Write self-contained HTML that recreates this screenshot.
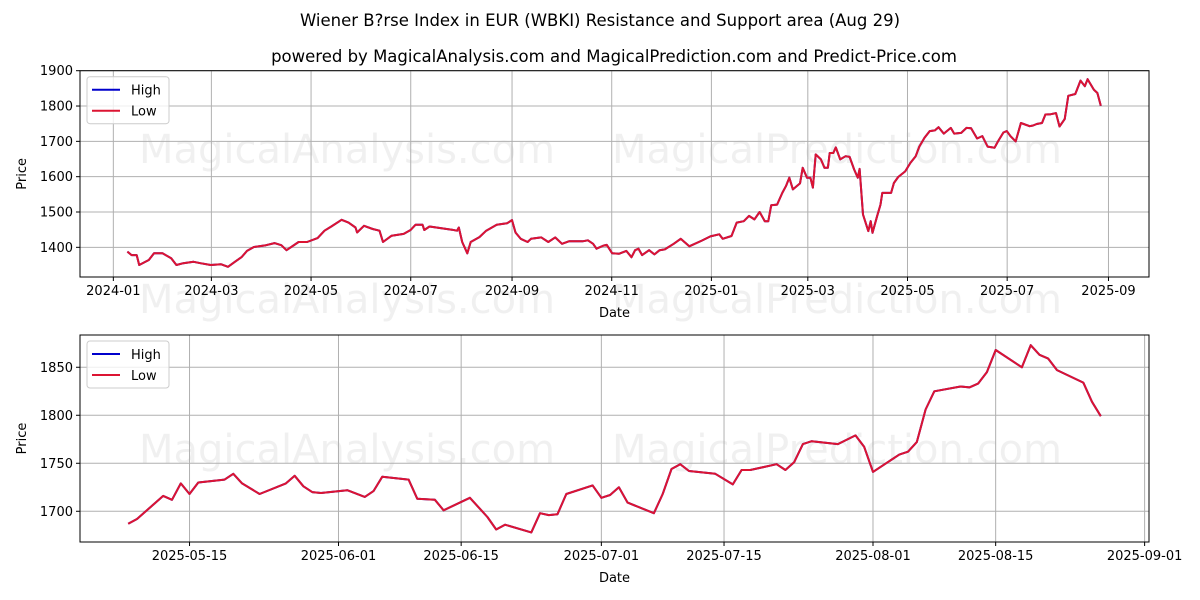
<!DOCTYPE html>
<html><head><meta charset="utf-8"><style>
html,body{margin:0;padding:0;background:#fff;}
svg{display:block;font-family:"DejaVu Sans","Liberation Sans",sans-serif;}
</style></head><body>
<svg id="c" width="1200" height="600" viewBox="0 0 1200 600">
<text x="600" y="26" text-anchor="middle" font-size="16.5">Wiener B?rse Index in EUR (WBKI) Resistance and Support area (Aug 29)</text>
<text x="614" y="62" text-anchor="middle" font-size="16.5">powered by MagicalAnalysis.com and MagicalPrediction.com and Predict-Price.com</text>
</svg>
<script>
// Top chart: day offsets from 2024-01-01 and Low values
const topDays=[8.6,11.2,14.3,15.8,21.7,24.9,30.1,35.4,38.6,42.8,49.1,53.3,59.6,66,70.2,74.4,78.6,81.8,86,93.4,98.6,102.8,106,113.4,118.6,125,129.2,133.4,139.7,143.9,148.2,149.2,153.4,158.7,162.9,165,170.3,177.7,181.9,185,189.2,190.3,193.5,200.8,207.2,210.3,211.4,213.5,216.6,218.7,224,228.2,234.6,240.9,244,246.1,249.3,253.5,255.6,261.9,266.2,270.4,274.6,278.8,287.2,290.4,293.6,295.7,299.9,302,305.3,309.6,313.9,317.1,319.3,321.4,323.6,327.9,331.1,334.3,337.5,342.9,347.2,352.5,360.1,365.4,370.8,372.9,378.3,381.5,385.8,389,392.3,395.5,398.7,400.8,402.6,406.2,409.4,411.6,413.7,415.9,420.2,421.9,424.5,426.6,428.1,429.8,433,435.2,437.3,438.4,440.6,442.1,444.8,448.1,450.6,453.4,455.6,456.7,458.8,462,463.5,464.6,467.4,469.5,470.6,476,477.7,480.3,484.6,487.8,491,493.2,496.4,499.6,502.8,505,508.2,512.5,514.6,518.9,522.1,524.9,528.6,531.8,535,539.3,541.4,544.7,546.8,549,552.2,555.4,560.8,562.9,565.1,568.3,570.4,573.7,576.9,579,582.2,584.4,588.7,591.9,594.5,596.2,600.1,602.2,604.3];
const topLow=[1388,1378,1378,1350,1364,1383,1383,1369,1350,1355,1359,1355,1350,1352,1345,1359,1373,1390,1401,1406,1412,1406,1392,1415,1415,1426,1447,1459,1478,1470,1456,1442,1461,1452,1447,1415,1433,1438,1449,1464,1464,1449,1459,1454,1450,1447,1456,1415,1383,1415,1429,1447,1464,1468,1477,1442,1424,1415,1424,1428,1415,1428,1410,1417,1417,1420,1410,1396,1405,1407,1383,1382,1390,1372,1392,1396,1378,1392,1380,1392,1394,1410,1424,1403,1419,1431,1437,1424,1432,1470,1474,1489,1479,1500,1474,1474,1519,1521,1554,1573,1597,1564,1581,1625,1597,1597,1569,1663,1649,1625,1625,1667,1667,1683,1649,1658,1656,1620,1597,1622,1493,1446,1474,1441,1488,1521,1554,1554,1582,1599,1615,1639,1658,1685,1710,1729,1731,1740,1722,1738,1722,1724,1738,1737,1708,1715,1685,1682,1700,1725,1729,1715,1700,1752,1743,1745,1749,1752,1776,1777,1780,1742,1763,1829,1834,1872,1856,1876,1846,1837,1801];
const topHigh=topLow.slice();
const topYTicks=[1400,1500,1600,1700,1800,1900];
const topXTickLabels=["2024-01","2024-03","2024-05","2024-07","2024-09","2024-11","2025-01","2025-03","2025-05","2025-07","2025-09"];
// Bottom chart
const botDates=["2025-05-08","2025-05-09","2025-05-12","2025-05-13","2025-05-14","2025-05-15","2025-05-16","2025-05-19","2025-05-20","2025-05-21","2025-05-23","2025-05-26","2025-05-27","2025-05-28","2025-05-29","2025-05-30","2025-06-02","2025-06-04","2025-06-05","2025-06-06","2025-06-09","2025-06-10","2025-06-12","2025-06-13","2025-06-16","2025-06-18","2025-06-19","2025-06-20","2025-06-23","2025-06-24","2025-06-25","2025-06-26","2025-06-27","2025-06-30","2025-07-01","2025-07-02","2025-07-03","2025-07-04","2025-07-07","2025-07-08","2025-07-09","2025-07-10","2025-07-11","2025-07-14","2025-07-16","2025-07-17","2025-07-18","2025-07-21","2025-07-22","2025-07-23","2025-07-24","2025-07-25","2025-07-28","2025-07-30","2025-07-31","2025-08-01","2025-08-04","2025-08-05","2025-08-06","2025-08-07","2025-08-08","2025-08-11","2025-08-12","2025-08-13","2025-08-14","2025-08-15","2025-08-18","2025-08-19","2025-08-20","2025-08-21","2025-08-22","2025-08-25","2025-08-26","2025-08-27"];
const botLow=[1687,1692,1716,1712,1729,1718,1730,1733,1739,1729,1718,1729,1737,1726,1720,1719,1722,1715,1721,1736,1733,1713,1712,1701,1714,1694,1681,1686,1678,1698,1696,1697,1718,1727,1714,1717,1725,1709,1698,1718,1744,1749,1742,1739,1728,1743,1743,1749,1743,1751,1770,1773,1770,1779,1767,1741,1759,1762,1772,1806,1825,1830,1829,1833,1845,1868,1850,1873,1863,1859,1847,1834,1814,1799];
const botHigh=botLow.slice();
const botYTicks=[1700,1750,1800,1850];
const botXTickLabels=["2025-05-15","2025-06-01","2025-06-15","2025-07-01","2025-07-15","2025-08-01","2025-08-15","2025-09-01"];

const NS="http://www.w3.org/2000/svg";
const svg=document.getElementById('c');
function mk(t,a,p){const e=document.createElementNS(NS,t);for(const k in a)e.setAttribute(k,a[k]);(p||svg).appendChild(e);return e;}
const DAY=86400000;
const base24=Date.UTC(2024,0,1), base25=Date.UTC(2025,4,15);
function dOff(s,b){const p=s.split('-');return (Date.UTC(+p[0],+p[1]-1,+p[2])-b)/DAY;}
function monthOff(s){return dOff(s+"-01",base24);}

function panel(o){
  const g=mk('g',{});
  
  
  const X=v=>o.L+(v-o.x0)/(o.x1-o.x0)*(o.R-o.L);
  const Y=v=>o.B-(v-o.y0)/(o.y1-o.y0)*(o.B-o.T);
  o.wm.forEach(w=>{const t=mk('text',{x:w[0],y:w[1],'text-anchor':'middle','font-size':40,fill:'#000','fill-opacity':0.06},g);t.textContent=w[2];
    });
  o.yt.forEach(v=>{const y=Y(v);
    const l=mk('line',{x1:o.L,x2:o.R,y1:y,y2:y,stroke:'#b0b0b0','stroke-width':1},g);
    
    mk('line',{x1:o.L-4,x2:o.L,y1:y,y2:y,stroke:'#000'},g);
    const t=mk('text',{x:o.L-7,y:y+4.5,'text-anchor':'end','font-size':13},g);t.textContent=v;
    });
  o.xt.forEach((lab,i)=>{const x=X(o.xpos[i]);
    const l=mk('line',{x1:x,x2:x,y1:o.T,y2:o.B,stroke:'#b0b0b0','stroke-width':1},g);
    
    mk('line',{x1:x,x2:x,y1:o.B,y2:o.B+4,stroke:'#000'},g);
    const t=mk('text',{x:x,y:o.B+18,'text-anchor':'middle','font-size':13},g);t.textContent=lab;
    });
  [[o.hi,'#0000cc','high-line'],[o.lo,'#dc1432','low-line']].forEach(s=>{
    const d=s[0].map((v,i)=>(i?'L':'M')+X(o.xs[i]).toFixed(1)+','+Y(v).toFixed(1)).join('');
    const p=mk('path',{d:d,fill:'none',stroke:s[1],'stroke-width':2,'stroke-linejoin':'round'},g);
    });
  const fr=mk('rect',{x:o.L,y:o.T,width:o.R-o.L,height:o.B-o.T,fill:'none',stroke:'#000','stroke-width':1},g);
  
  const lg=mk('g',{},g);
  
  mk('rect',{x:o.L+7,y:o.T+6,width:82,height:47,rx:3,fill:'#fff','fill-opacity':0.8,stroke:'#ccc'},lg);
  [['High','#0000cc'],['Low','#dc1432']].forEach((e,i)=>{const yy=o.T+19+i*21;
    const le=mk('g',{},lg);
    mk('line',{x1:o.L+12,x2:o.L+40,y1:yy,y2:yy,stroke:e[1],'stroke-width':2},le);
    const t=mk('text',{x:o.L+51,y:yy+5,'font-size':13},le);t.textContent=e[0];});
  const yl=mk('text',{x:0,y:0,'text-anchor':'middle','font-size':13,transform:`translate(26,${(o.T+o.B)/2}) rotate(-90)`},g);yl.textContent='Price';
  
  const xl=mk('text',{x:(o.L+o.R)/2,y:o.B+40,'text-anchor':'middle','font-size':13},g);xl.textContent='Date';
  
}
panel({name:'top-panel',L:80,R:1149,T:70.7,B:277,x0:-20.4,x1:633.8,y0:1316,y1:1900,
  yt:topYTicks,xt:topXTickLabels,xpos:topXTickLabels.map(monthOff),xs:topDays,lo:topLow,hi:topHigh,
  wm:[[347,163,'MagicalAnalysis.com'],[837,163,'MagicalPrediction.com'],[347,313,'MagicalAnalysis.com'],[837,313,'MagicalPrediction.com']]});
panel({name:'bottom-panel',L:80,R:1149,T:335,B:542,x0:-12.5,x1:109.5,y0:1668,y1:1883.6,
  yt:botYTicks,xt:botXTickLabels,xpos:botXTickLabels.map(s=>dOff(s,base25)),xs:botDates.map(s=>dOff(s,base25)),lo:botLow,hi:botHigh,
  wm:[[347,463,'MagicalAnalysis.com'],[837,463,'MagicalPrediction.com']]});
</script>
</body></html>
